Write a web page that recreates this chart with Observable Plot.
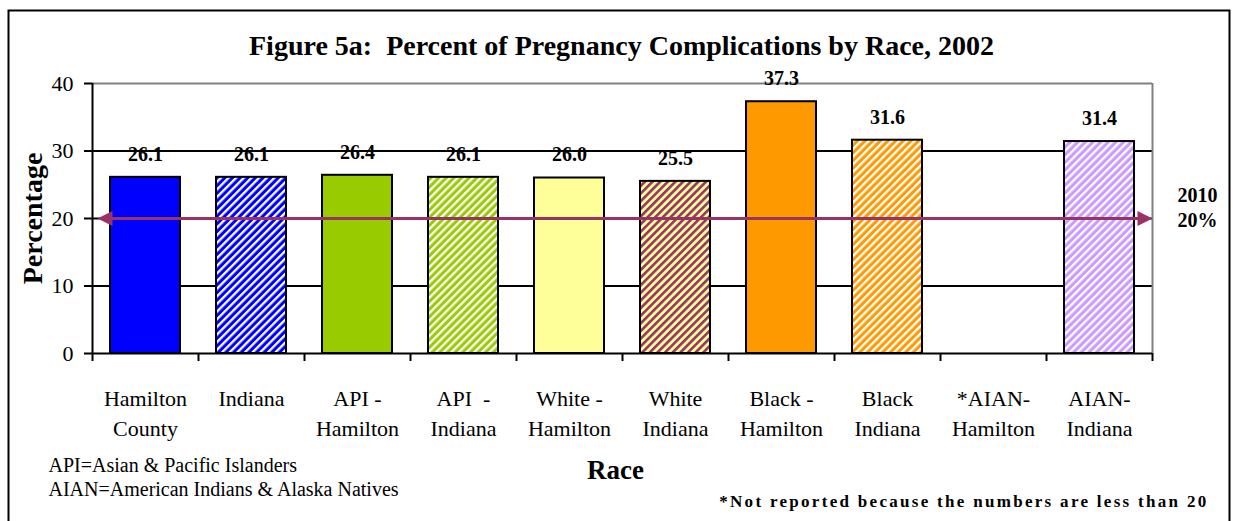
<!DOCTYPE html>
<html>
<head>
<meta charset="utf-8">
<script src="https://cdn.jsdelivr.net/npm/d3@7"></script>
<script src="https://cdn.jsdelivr.net/npm/@observablehq/plot@0.6"></script>
<style>
  html, body { margin: 0; padding: 0; background: #ffffff; }
  #chart { width: 1233px; height: 521px; overflow: hidden; }
  #defs { position: absolute; width: 0; height: 0; }
</style>
</head>
<body>
<svg id="defs" width="0" height="0" aria-hidden="true">
  <defs>
    <pattern id="stripeBlue" patternUnits="userSpaceOnUse" width="5.4" height="5.4" patternTransform="rotate(45)">
      <rect width="5.4" height="5.4" fill="#0000FF"></rect>
      <rect width="2.3" height="5.4" fill="#ffffff"></rect>
    </pattern>
    <pattern id="stripeGreen" patternUnits="userSpaceOnUse" width="5.4" height="5.4" patternTransform="rotate(45)">
      <rect width="5.4" height="5.4" fill="#99CC00"></rect>
      <rect width="2.3" height="5.4" fill="#ffffff"></rect>
    </pattern>
    <pattern id="stripeYellow" patternUnits="userSpaceOnUse" width="5.4" height="5.4" patternTransform="rotate(45)">
      <rect width="5.4" height="5.4" fill="#FFFF99"></rect>
      <rect width="2.6" height="5.4" fill="#993366"></rect>
    </pattern>
    <pattern id="stripeOrange" patternUnits="userSpaceOnUse" width="5.4" height="5.4" patternTransform="rotate(45)">
      <rect width="5.4" height="5.4" fill="#FF9900"></rect>
      <rect width="2.3" height="5.4" fill="#ffffff"></rect>
    </pattern>
    <pattern id="stripeLavender" patternUnits="userSpaceOnUse" width="5.4" height="5.4" patternTransform="rotate(45)">
      <rect width="5.4" height="5.4" fill="#CC99FF"></rect>
      <rect width="2.3" height="5.4" fill="#ffffff"></rect>
    </pattern>
  </defs>
</svg>
<div id="chart"></div>
<script>
// ---- data ----
const categories = [
  "Hamilton\nCounty", "Indiana", "API -\nHamilton", "API  -\nIndiana", "White -\nHamilton",
  "White\nIndiana", "Black -\nHamilton", "Black\nIndiana", "*AIAN-\nHamilton", "AIAN-\nIndiana"
];
const values = [26.1, 26.1, 26.4, 26.1, 26.0, 25.5, 37.3, 31.6, null, 31.4];
const yTicks = [0, 10, 20, 30, 40];
const targetValue = 20;
const targetLabel = "2010\n20%";
const titleText = "Figure 5a:  Percent of Pregnancy Complications by Race, 2002";
const yTitle = "Percentage";
const xTitle = "Race";
const notes = ["API=Asian & Pacific Islanders", "AIAN=American Indians & Alaska Natives"];
const footnote = "*Not reported because the numbers are less than 20";

// ---- styles ----
const barFills = [
  "#0000FF", "url(#stripeBlue)", "#99CC00", "url(#stripeGreen)", "#FFFF99",
  "url(#stripeYellow)", "#FF9900", "url(#stripeOrange)", "none", "url(#stripeLavender)"
];
const targetColor = "#993366";

const rows = categories.map((c, i) => ({category: c, value: values[i], fill: barFills[i]}));
const shown = rows.filter(d => d.value != null);

const W = 1233, H = 521;
const mL = 92, mR = 81, mT = 83, mB = 168;
const half = (W - mL - mR) / categories.length / 2;

const leftTri = {draw(ctx) { ctx.moveTo(-8, 0); ctx.lineTo(7, -7.5); ctx.lineTo(7, 7.5); ctx.closePath(); }};
const rightTri = {draw(ctx) { ctx.moveTo(8, 0); ctx.lineTo(-7, -7.5); ctx.lineTo(-7, 7.5); ctx.closePath(); }};

const chart = Plot.plot({
  width: W,
  height: H,
  marginLeft: mL,
  marginRight: mR,
  marginTop: mT,
  marginBottom: mB,
  style: {fontFamily: "'Liberation Serif', 'Times New Roman', serif", fontSize: "22px", background: "#ffffff", color: "#000000"},
  x: {domain: categories, padding: 0, axis: null},
  y: {domain: [0, 40], label: null},
  color: {type: "identity"},
  marks: [
    // outer border
    Plot.frame({stroke: "#000000", strokeWidth: 2, insetLeft: -84, insetTop: -73, insetRight: -77, insetBottom: -190}),
    // gridlines
    Plot.ruleY(yTicks.filter(t => t > 0 && t < 40), {stroke: "#000000", strokeWidth: 2}),
    Plot.ruleY([40], {stroke: "#808080", strokeWidth: 2}),
    Plot.ruleX([categories[categories.length - 1]], {x: d => d, dx: half, stroke: "#808080", strokeWidth: 2}),
    // bars
    Plot.barY(shown, {x: "category", y: "value", fill: "fill", stroke: "#000000", strokeWidth: 2, insetLeft: 18, insetRight: 18}),
    // axes lines
    Plot.ruleY([0], {stroke: "#000000", strokeWidth: 2}),
    Plot.ruleX([categories[0]], {x: d => d, dx: -half, stroke: "#000000", strokeWidth: 2}),
    Plot.ruleX(categories, {x: d => d, dx: -half, y1: 0, y2: 0, insetBottom: -8, stroke: "#000000", strokeWidth: 2}),
    Plot.ruleX([categories[categories.length - 1]], {x: d => d, dx: half, y1: 0, y2: 0, insetBottom: -8, stroke: "#000000", strokeWidth: 2}),
    Plot.axisY(yTicks, {tickSize: 8, tickPadding: 11, strokeWidth: 2, stroke: "#000000", fontSize: 22, label: null}),
    // x tick labels
    Plot.text(categories, {x: d => d, frameAnchor: "bottom", lineAnchor: "top", dy: 31, lineHeight: 30 / 22, fontSize: 22}),
    // target arrow
    Plot.ruleY([targetValue], {stroke: targetColor, strokeWidth: 3, insetLeft: 14, insetRight: 12}),
    Plot.dot([targetValue], {y: d => d, frameAnchor: "left", dx: 13, symbol: leftTri, fill: targetColor, stroke: null}),
    Plot.dot([targetValue], {y: d => d, frameAnchor: "right", dx: -8, symbol: rightTri, fill: targetColor, stroke: null}),
    Plot.text([targetLabel], {y: () => targetValue, frameAnchor: "right", textAnchor: "middle", dx: 45, dy: -12, lineAnchor: "middle", lineHeight: 1.25, fontSize: 20, fontWeight: "bold"}),
    // value labels
    Plot.text(shown, {x: "category", y: "value", text: d => d.value.toFixed(1), dy: -23, lineAnchor: "middle", fontSize: 20, fontWeight: "bold"}),
    // titles
    Plot.text([titleText], {frameAnchor: "top", textAnchor: "middle", lineAnchor: "middle", dx: -1, dy: -37, fontSize: 28, fontWeight: "bold"}),
    Plot.text([yTitle], {frameAnchor: "left", textAnchor: "middle", lineAnchor: "middle", rotate: -90, dx: -59, fontSize: 28, fontWeight: "bold"}),
    Plot.text([xTitle], {frameAnchor: "bottom", textAnchor: "middle", lineAnchor: "middle", dx: -7, dy: 117, fontSize: 27, fontWeight: "bold"}),
    Plot.text([notes.join("\n")], {frameAnchor: "bottom-left", textAnchor: "start", lineAnchor: "top", dx: -44, dy: 101, lineHeight: 1.2, fontSize: 20}),
    Plot.text([footnote], {frameAnchor: "bottom-right", textAnchor: "end", lineAnchor: "middle", dx: 56, dy: 148, fontSize: 17, fontWeight: "bold"})
  ]
});

d3.select(chart).selectAll("text").style("white-space", "pre");
// letter-spacing on the footnote
d3.select(chart).selectAll("text").filter(function() { return this.textContent === footnote; }).style("letter-spacing", "2.3px");
document.getElementById("chart").appendChild(chart);
</script>
</body>
</html>
